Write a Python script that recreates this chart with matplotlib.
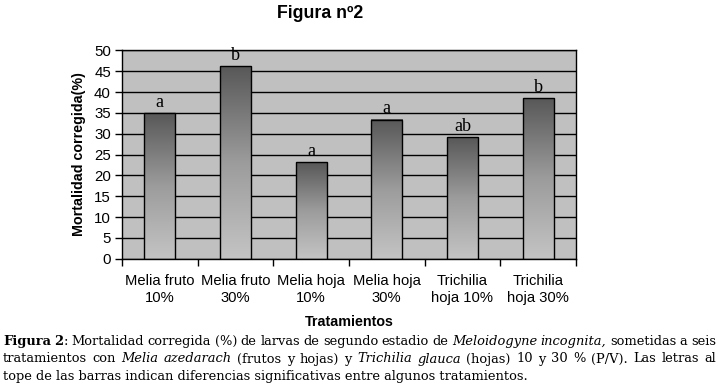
import numpy as np
import matplotlib
matplotlib.use("Agg")
import matplotlib.pyplot as plt
from matplotlib.colors import LinearSegmentedColormap

# Data
categories = ["Melia fruto\n10%", "Melia fruto\n30%", "Melia hoja\n10%",
              "Melia hoja\n30%", "Trichilia\nhoja 10%", "Trichilia\nhoja 30%"]
mortality = [35.0, 46.2, 23.1, 33.4, 29.1, 38.5]
letters = ["a", "b", "a", "a", "ab", "b"]

caption_lines = [
    [("Figura 2", "bold"), (": Mortalidad corregida (%) de larvas de segundo estadio de", "normal"),
     ("Meloidogyne incognita,", "italic"), ("sometidas a seis", "normal")],
    [("tratamientos con", "normal"), ("Melia azedarach", "italic"), ("(frutos y hojas) y", "normal"),
     ("Trichilia glauca", "italic"), ("(hojas) 10 y 30 % (P/V). Las letras al", "normal")],
    [("tope de las barras indican diferencias significativas entre algunos tratamientos.", "normal")],
]

sans = "Liberation Sans"
serif = "DejaVu Serif"

fig = plt.figure(figsize=(7.18, 3.84), dpi=100)
fig.patch.set_facecolor("white")
ax = fig.add_axes([0.170, 0.326, 0.632, 0.543])
ax.set_facecolor("#c0c0c0")

x = np.arange(len(categories))
width = 0.41
bars = ax.bar(x, mortality, width=width, color="none", edgecolor="black", linewidth=1.0, zorder=3)

# vertical gradient inside each bar, dark at the top
cmap = LinearSegmentedColormap.from_list("bargrad", ["#c4c4c4", "#9c9c9c", "#585858"])
grad = np.linspace(0, 1, 256).reshape(-1, 1)
for b in bars:
    x0 = b.get_x()
    h = b.get_height()
    ax.imshow(grad, cmap=cmap, aspect="auto", origin="lower",
              extent=[x0, x0 + b.get_width(), 0, h], zorder=2)

for xi, v, lab in zip(x, mortality, letters):
    ax.text(xi, v + 0.5, lab, ha="center", va="bottom", fontsize=13, family="Liberation Serif")

ax.set_xlim(-0.5, len(categories) - 0.5)
ax.set_ylim(0, 50)
ax.set_yticks(np.arange(0, 51, 5))
ax.yaxis.grid(True, color="black", linewidth=1.0, zorder=1)
ax.set_axisbelow(True)

ax.set_xticks(np.arange(-0.5, len(categories), 1.0))
ax.set_xticklabels([])
ax.set_xticks(x, minor=True)
ax.set_xticklabels(categories, minor=True, fontsize=10.6, family=sans, linespacing=1.3)
ax.tick_params(axis="x", which="major", direction="out", length=5, width=1)
ax.tick_params(axis="x", which="minor", length=0, pad=11)
ax.tick_params(axis="y", direction="out", length=5, width=1, labelsize=10.8, pad=3)
for t in ax.get_yticklabels():
    t.set_family(sans)
for s in ax.spines.values():
    s.set_color("black")
    s.set_linewidth(1.0)

ax.set_ylabel("Mortalidad corregida(%)", fontsize=10.3, fontweight="bold", family=sans, labelpad=6)
ax.set_xlabel("Tratamientos", fontsize=10.3, fontweight="bold", family=sans, labelpad=7)

fig.text(320 / 718, 1 - 13 / 384, "Figura nº2", ha="center", va="center",
         fontsize=12.8, fontweight="bold", family=sans)

# caption: size chosen so the last line is as wide as in the reference,
# first two lines justified word by word
renderer = fig.canvas.get_renderer()
W, H = fig.get_size_inches() * fig.dpi
probe = fig.text(0, 0, caption_lines[2][0][0], fontsize=10, family=serif)
cap_size = 10 * 532.0 / probe.get_window_extent(renderer=renderer).width
probe.remove()

baselines = [345, 362.5, 380]
left, right = 3.0, 716.0
for i, (line, yp) in enumerate(zip(caption_lines, baselines)):
    if i == 2:
        fig.text(left / W, 1 - yp / H, line[0][0], fontsize=cap_size, family=serif,
                 va="baseline", ha="left")
        continue
    words = []
    for txt, style in line:
        for k, w in enumerate(txt.split(" ")):
            kw = dict(fontsize=cap_size, family=serif, va="baseline", ha="left")
            if style == "bold":
                kw["fontweight"] = "bold"
            elif style == "italic":
                kw["fontstyle"] = "italic"
            t = fig.text(0, 1 - yp / H, w, **kw)
            glued = (k == 0 and w.startswith(":"))
            words.append((t, t.get_window_extent(renderer=renderer).width, glued))
    total = sum(wd for _, wd, _ in words)
    ngaps = sum(1 for _, _, g in words[1:] if not g)
    gap = (right - left - total) / ngaps
    xp = left
    for j, (t, wd, glued) in enumerate(words):
        if j > 0 and not glued:
            xp += gap
        t.set_x(xp / W)
        xp += wd

fig.savefig("out.png", dpi=100)
